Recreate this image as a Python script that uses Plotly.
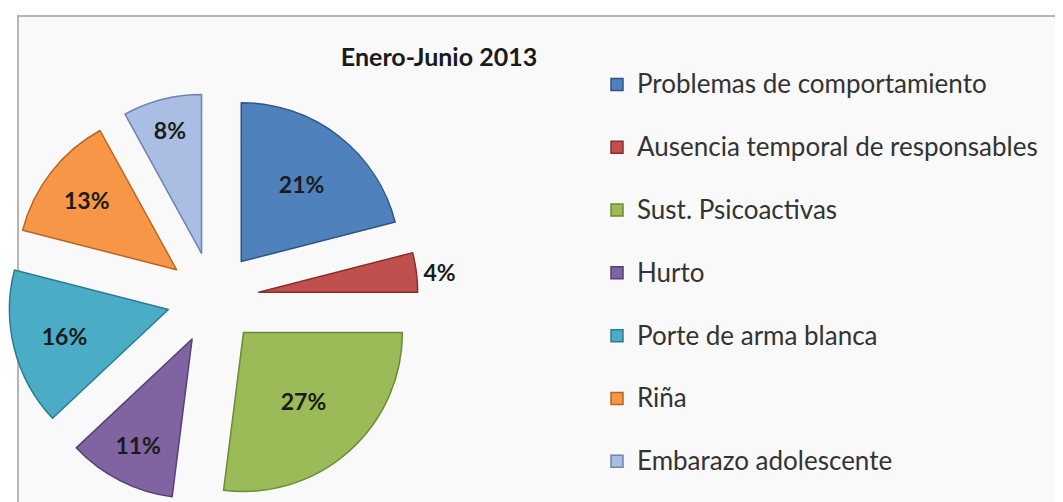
import plotly.graph_objects as go

categories = ["Problemas de comportamiento", "Ausencia temporal de responsables",
              "Sust. Psicoactivas", "Hurto", "Porte de arma blanca", "Riña",
              "Embarazo adolescente"]
values = [21, 4, 27, 11, 16, 13, 8]
colors = ["#4F81BD", "#C0504D", "#9BBB59", "#8064A2", "#4BACC6", "#F79646", "#A9BEE2"]
edge_colors = ["#2E5583", "#8C2F2C", "#6A8A33", "#55407A", "#2C7C93", "#B9661F", "#6C84AE"]
title_text = "Enero-Junio 2013"

W, H = 1063, 502

legend_labels = ["<span style='font-size:26px'>" + c + "</span><br> " for c in categories]
text_pos = ["inside", "outside", "inside", "inside", "inside", "inside", "inside"]

fig = go.Figure()
fig.add_trace(go.Pie(
    labels=legend_labels,
    values=values,
    sort=False,
    direction="clockwise",
    rotation=0,
    pull=[0.29] * len(values),
    marker=dict(colors=colors, line=dict(color=edge_colors, width=1.5)),
    texttemplate="%{value}%",
    textposition=text_pos,
    insidetextorientation="horizontal",
    textfont=dict(family="Lato", size=23, color="#1b1b1b", weight="bold"),
    outsidetextfont=dict(family="Lato", size=23, color="#1b1b1b", weight="bold"),
    domain=dict(x=[0.0, 410 / W], y=[1 - 495 / H, 1 - 85 / H]),
    hoverinfo="percent",
))

fig.update_layout(
    width=W, height=H,
    margin=dict(l=0, r=0, t=0, b=0, autoexpand=False),
    paper_bgcolor="#FFFFFF",
    plot_bgcolor="#FFFFFF",
    title=dict(text="<b>" + title_text + "</b>", x=431 / W, y=1 - 49 / H,
               xanchor="center", yanchor="middle",
               font=dict(family="Lato", size=25, color="#1a1a1a")),
    legend=dict(x=589 / W, y=1 - 55 / H, xanchor="left", yanchor="top",
                font=dict(family="Lato", size=23, color="#333333"),
                valign="top", bgcolor="rgba(0,0,0,0)"),
    shapes=[dict(type="rect", xref="paper", yref="paper",
                 x0=10 / W, x1=1061 / W, y0=-0.1, y1=1 - 8 / H,
                 line=dict(color="#B5B5B5", width=2), fillcolor="#F9F9F9",
                 layer="below")],
)

fig.write_html("out.html")
